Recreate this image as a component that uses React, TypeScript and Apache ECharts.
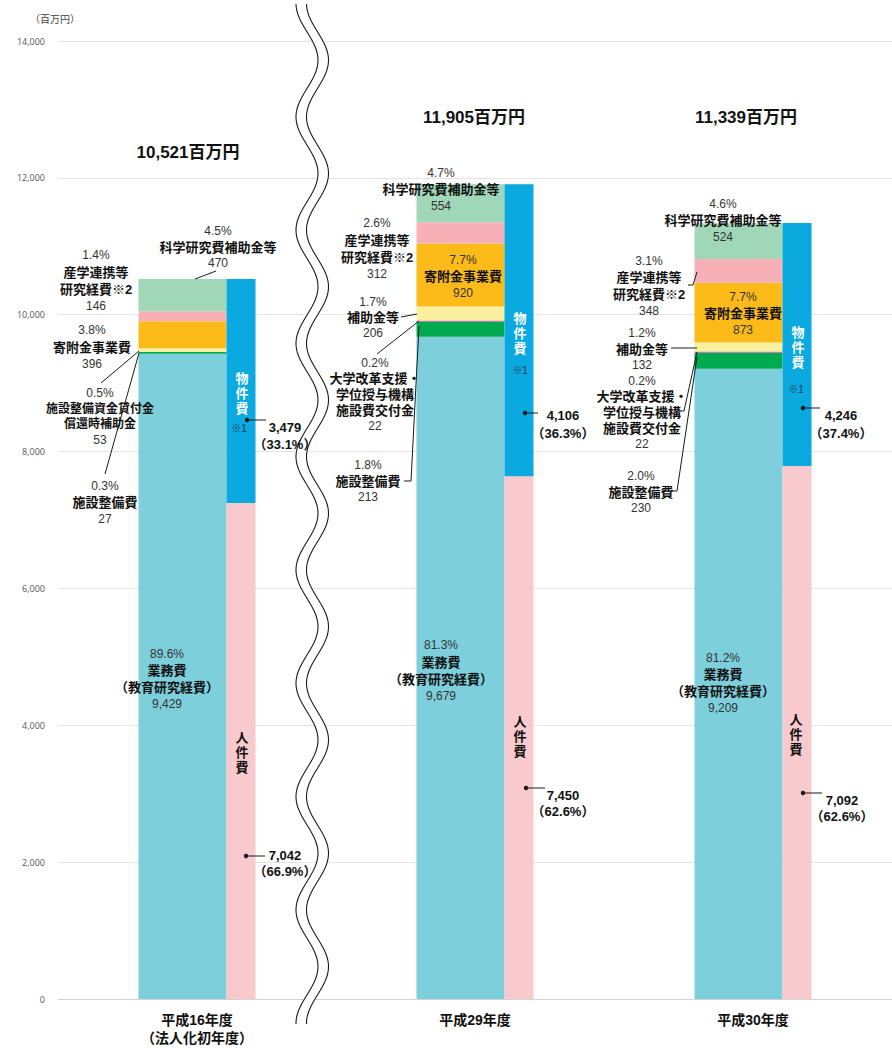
import React, { useEffect, useRef } from "react";
import * as echarts from "echarts";

// ---------- data ----------
const categories = ["平成16年度\n（法人化初年度）", "平成29年度", "平成30年度"];
const totalLabels = ["10,521百万円", "11,905百万円", "11,339百万円"];

// 業務費 stack (bottom → top)
const educationResearch = [9429, 9679, 9209];
const facilityMaintenance = [27, 213, 230];
const niadFacilityGrant = [null, 22, 22];
const facilityLoanRepaySubsidy = [53, null, null];
const subsidies = [null, 206, 132];
const donationProjects = [396, 920, 873];
const industryCollab = [146, 312, 348];
const kakenhi = [470, 554, 524];

// 人件費 / 物件費 stack (bar heights as drawn)
const personnelBar = [7250, 7640, 7790];
const materialBar = [3271, 4265, 3550];

// printed labels
const educationPct = ["89.6%", "81.3%", "81.2%"];
const educationVal = ["9,429", "9,679", "9,209"];
const facilityPct = ["0.3%", "1.8%", "2.0%"];
const facilityVal = ["27", "213", "230"];
const niadPct = ["", "0.2%", "0.2%"];
const niadVal = ["", "22", "22"];
const loanPct = ["0.5%", "", ""];
const loanVal = ["53", "", ""];
const subsidyPct = ["", "1.7%", "1.2%"];
const subsidyVal = ["", "206", "132"];
const donationPct = ["3.8%", "7.7%", "7.7%"];
const donationVal = ["396", "920", "873"];
const industryPct = ["1.4%", "2.6%", "3.1%"];
const industryVal = ["146", "312", "348"];
const kakenhiPct = ["4.5%", "4.7%", "4.6%"];
const kakenhiVal = ["470", "554", "524"];
const personnelVal = ["7,042", "7,450", "7,092"];
const personnelPct = ["（66.9%）", "（62.6%）", "（62.6%）"];
const materialVal = ["3,479", "4,106", "4,246"];
const materialPct = ["（33.1%）", "（36.3%）", "（37.4%）"];

// ---------- colours ----------
const C = {
  edu: "#7dcfdc",
  facility: "#00aa4f",
  niad: "#c47bb0",
  yellow: "#f8f09e",
  donation: "#fdbb19",
  industry: "#f6b0b6",
  kakenhi: "#a0d7b9",
  material: "#0aa9e0",
  personnel: "#f9cacd",
};

const FONT = "'Liberation Sans', 'Noto Sans CJK JP', sans-serif";

type Kind = "p" | "b" | "bs" | "v" | "w" | "d" | "note";
const kindStyle: Record<Kind, any> = {
  p: { fontSize: 12, fontWeight: "normal", color: "#333" },
  b: { fontSize: 13, fontWeight: "bold", color: "#111" },
  bs: { fontSize: 12, fontWeight: "bold", color: "#111" },
  v: { fontSize: 13, fontWeight: "bold", color: "#111" },
  w: { fontSize: 13, fontWeight: "bold", color: "#ffffff" },
  d: { fontSize: 13, fontWeight: "bold", color: "#111" },
  note: { fontSize: 10, fontWeight: "normal", color: "#2a3550" },
};

function richFor(gap: number): any {
  const r: any = {};
  (Object.keys(kindStyle) as Kind[]).forEach((k) => {
    const s = kindStyle[k];
    r[k] = {
      fontFamily: FONT,
      fontSize: s.fontSize,
      fontWeight: s.fontWeight,
      fill: s.color,
      lineHeight: gap,
      align: "center",
    };
  });
  return r;
}

// a multi-line label; y = centre of the first line
function block(x: number, y: number, lines: [string, Kind][], gap: number): any {
  const ls = lines.filter((l) => l[0] !== "");
  const text = ls.map((l) => `{${l[1]}|${l[0]}}`).join("\n");
  return {
    type: "text",
    x,
    y: y + ((ls.length - 1) * gap) / 2,
    silent: true,
    z: 100,
    style: {
      text,
      rich: richFor(gap),
      textAlign: "center",
      textVerticalAlign: "middle",
      verticalAlign: "middle",
    },
  };
}

function txt(x: number, y: number, text: string, kind: Kind): any {
  return block(x, y, [[text, kind]], kindStyle[kind].fontSize + 3);
}

function vert(x: number, y: number, text: string, kind: Kind, gap: number): any {
  return block(x, y, text.split("").map((ch) => [ch, kind] as [string, Kind]), gap);
}

function lineEl(points: number[][]): any {
  return {
    type: "polyline",
    silent: true,
    z: 100,
    shape: { points },
    style: { stroke: "#1a1a1a", lineWidth: 1, fill: null },
  };
}

function dot(x: number, y: number): any {
  return { type: "circle", silent: true, z: 100, shape: { cx: x, cy: y, r: 2.2 }, style: { fill: "#1a1a1a" } };
}

function buildWave(): any[] {
  const y0 = 4;
  const y1 = 1024;
  const period = 113.3;
  const a: number[][] = [];
  const b: number[][] = [];
  for (let y = y0; y <= y1; y += 2) {
    const x = 307 - 11 * Math.cos((2 * Math.PI * (y - 3.5)) / period);
    a.push([x, y]);
    b.push([x + 10.5, y]);
  }
  const poly = a.concat(b.slice().reverse());
  return [
    { type: "polygon", silent: true, z: 90, shape: { points: poly }, style: { fill: "#ffffff" } },
    { type: "polyline", silent: true, z: 91, shape: { points: a }, style: { stroke: "#1a1a1a", lineWidth: 1.1, fill: null } },
    { type: "polyline", silent: true, z: 91, shape: { points: b }, style: { stroke: "#1a1a1a", lineWidth: 1.1, fill: null } },
  ];
}

function buildGraphics(): any[] {
  const g: any[] = [];
  // unit
  g.push({
    type: "text", x: 55, y: 19, silent: true,
    style: { text: "（百万円）", fontFamily: FONT, fontSize: 10, fill: "#444", textAlign: "center", textVerticalAlign: "middle", verticalAlign: "middle" },
  });
  g.push(...buildWave());

  // totals
  const totalPos = [[188, 152], [474, 117], [746, 117]];
  totalPos.forEach((p, i) => {
    g.push({
      type: "text", x: p[0], y: p[1], silent: true, z: 100,
      style: { text: totalLabels[i], fontFamily: FONT, fontSize: 17, fontWeight: "bold", fill: "#111", textAlign: "center", textVerticalAlign: "middle", verticalAlign: "middle" },
    });
  });

  // ---- 平成16年度 ----
  g.push(block(218, 231, [[kakenhiPct[0], "p"], ["科学研究費補助金等", "b"], [kakenhiVal[0], "p"]], 16));
  g.push(lineEl([[216, 271], [195, 279]]));
  g.push(block(96, 255, [[industryPct[0], "p"], ["産学連携等", "b"], ["研究経費※2", "b"], [industryVal[0], "p"]], 17));
  g.push(block(92, 330, [[donationPct[0], "p"], ["寄附金事業費", "b"], [donationVal[0], "p"]], 17));
  g.push(block(100, 393, [[loanPct[0], "p"], ["施設整備資金貸付金", "bs"], ["償還時補助金", "bs"], [loanVal[0], "p"]], 15.7));
  g.push(lineEl([[101, 383], [139, 351]]));
  g.push(block(105, 486, [[facilityPct[0], "p"], ["施設整備費", "b"], [facilityVal[0], "p"]], 16.5));
  g.push(lineEl([[105, 474], [139, 353]]));
  g.push(block(167, 654, [[educationPct[0], "p"], ["業務費", "b"], ["（教育研究経費）", "b"], [educationVal[0], "p"]], 16.8));
  g.push(vert(242, 378, "物件費", "w", 15));
  g.push(txt(239, 428, "※1", "note"));
  g.push(dot(247, 420), lineEl([[247, 420], [266, 420]]));
  g.push(block(285, 427, [[materialVal[0], "v"], [materialPct[0], "v"]], 17));
  g.push(vert(242, 737, "人件費", "d", 15));
  g.push(dot(246, 856), lineEl([[246, 856], [265, 856]]));
  g.push(block(285, 855, [[personnelVal[0], "v"], [personnelPct[0], "v"]], 16.5));

  // ---- 平成29年度 ----
  g.push(block(441, 173, [[kakenhiPct[1], "p"], ["科学研究費補助金等", "b"], [kakenhiVal[1], "p"]], 16.5));
  g.push(block(377, 223, [[industryPct[1], "p"], ["産学連携等", "b"], ["研究経費※2", "b"], [industryVal[1], "p"]], 17));
  g.push(block(463, 260, [[donationPct[1], "p"], ["寄附金事業費", "b"], [donationVal[1], "p"]], 16.5));
  g.push(block(373, 302, [[subsidyPct[1], "p"], ["補助金等", "b"], [subsidyVal[1], "p"]], 15.7));
  g.push(lineEl([[401, 317], [417, 314]]));
  g.push(block(375, 363, [[niadPct[1], "p"], ["大学改革支援・", "b"], ["学位授与機構", "b"], ["施設費交付金", "b"], [niadVal[1], "p"]], 15.8));
  g.push(lineEl([[377, 354], [419, 321]]));
  g.push(block(368, 465, [[facilityPct[1], "p"], ["施設整備費", "b"], [facilityVal[1], "p"]], 16));
  g.push(lineEl([[404, 481], [411, 481], [419, 326]]));
  g.push(block(441, 645, [[educationPct[1], "p"], ["業務費", "b"], ["（教育研究経費）", "b"], [educationVal[1], "p"]], 17));
  g.push(vert(520, 318, "物件費", "w", 15));
  g.push(txt(520, 370, "※1", "note"));
  g.push(dot(525, 413), lineEl([[525, 413], [538, 413]]));
  g.push(block(563, 415, [[materialVal[1], "v"], [materialPct[1], "v"]], 18));
  g.push(vert(520, 721, "人件費", "d", 15));
  g.push(dot(526, 788), lineEl([[526, 788], [545, 788]]));
  g.push(block(563, 795, [[personnelVal[1], "v"], [personnelPct[1], "v"]], 16.5));

  // ---- 平成30年度 ----
  g.push(block(723, 204, [[kakenhiPct[2], "p"], ["科学研究費補助金等", "b"], [kakenhiVal[2], "p"]], 16.5));
  g.push(block(649, 261, [[industryPct[2], "p"], ["産学連携等", "b"], ["研究経費※2", "b"], [industryVal[2], "p"]], 16.7));
  g.push(lineEl([[688, 285], [693, 285], [697, 272]]));
  g.push(block(743, 297, [[donationPct[2], "p"], ["寄附金事業費", "b"], [donationVal[2], "p"]], 16.5));
  g.push(block(642, 333, [[subsidyPct[2], "p"], ["補助金等", "b"], [subsidyVal[2], "p"]], 16));
  g.push(lineEl([[671, 348], [697, 348]]));
  g.push(block(642, 381, [[niadPct[2], "p"], ["大学改革支援・", "b"], ["学位授与機構", "b"], ["施設費交付金", "b"], [niadVal[2], "p"]], 15.7));
  g.push(lineEl([[679, 411], [684, 411], [697, 352]]));
  g.push(block(641, 476, [[facilityPct[2], "p"], ["施設整備費", "b"], [facilityVal[2], "p"]], 16));
  g.push(lineEl([[672, 491], [677, 491], [697, 357]]));
  g.push(block(723, 658, [[educationPct[2], "p"], ["業務費", "b"], ["（教育研究経費）", "b"], [educationVal[2], "p"]], 16.5));
  g.push(vert(798, 332, "物件費", "w", 15));
  g.push(txt(796, 389, "※1", "note"));
  g.push(dot(803, 408), lineEl([[803, 408], [820, 408]]));
  g.push(block(841, 415, [[materialVal[2], "v"], [materialPct[2], "v"]], 18));
  g.push(vert(796, 719, "人件費", "d", 15));
  g.push(dot(803, 793), lineEl([[803, 793], [822, 793]]));
  g.push(block(842, 800, [[personnelVal[2], "v"], [personnelPct[2], "v"]], 16.5));

  return g;
}

function leftBar(name: string, data: any[], color: string): any {
  return {
    type: "bar",
    name,
    stack: "operations",
    data,
    barWidth: 88,
    barGap: "0%",
    itemStyle: { color },
    emphasis: { disabled: true },
  };
}
function rightBar(name: string, data: any[], color: string): any {
  return {
    type: "bar",
    name,
    stack: "costs",
    data,
    barWidth: 29,
    barGap: "0%",
    itemStyle: { color },
    emphasis: { disabled: true },
  };
}

export default function App() {
  const ref = useRef<HTMLDivElement>(null);
  useEffect(() => {
    document.body.style.margin = "0";
    if (!ref.current) return;
    const chart = echarts.init(ref.current, null, { renderer: "svg" });
    chart.setOption({
      animation: false,
      backgroundColor: "#ffffff",
      textStyle: { fontFamily: FONT },
      grid: { left: 58, top: 41, width: 836, height: 958, containLabel: false },
      xAxis: {
        type: "category",
        data: categories,
        axisTick: { show: false },
        axisLine: { lineStyle: { color: "#d3d3d3", width: 1 } },
        axisLabel: {
          interval: 0,
          margin: 12,
          fontSize: 14,
          fontWeight: "bold",
          color: "#111",
          lineHeight: 18,
          fontFamily: FONT,
        },
      },
      yAxis: {
        type: "value",
        min: 0,
        max: 14000,
        interval: 2000,
        axisLine: { show: false },
        axisTick: { show: false },
        splitLine: { lineStyle: { color: "#e4e4e4", width: 1 } },
        axisLabel: {
          margin: 13,
          fontSize: 9,
          color: "#555",
          fontFamily: "'Open Sans', 'Noto Sans', sans-serif",
          formatter: (v: number) => v.toLocaleString("en-US"),
        },
      },
      series: [
        leftBar("業務費（教育研究経費）", educationResearch, C.edu),
        leftBar("施設整備費", facilityMaintenance, C.facility),
        leftBar("大学改革支援・学位授与機構施設費交付金", niadFacilityGrant, C.niad),
        leftBar("施設整備資金貸付金償還時補助金", facilityLoanRepaySubsidy, C.yellow),
        leftBar("補助金等", subsidies, C.yellow),
        leftBar("寄附金事業費", donationProjects, C.donation),
        leftBar("産学連携等研究経費", industryCollab, C.industry),
        leftBar("科学研究費補助金等", kakenhi, C.kakenhi),
        rightBar("人件費", personnelBar, C.personnel),
        rightBar("物件費", materialBar, C.material),
      ],
      graphic: buildGraphics(),
    });
    return () => chart.dispose();
  }, []);
  return <div ref={ref} style={{ width: 892, height: 1048 }} />;
}
